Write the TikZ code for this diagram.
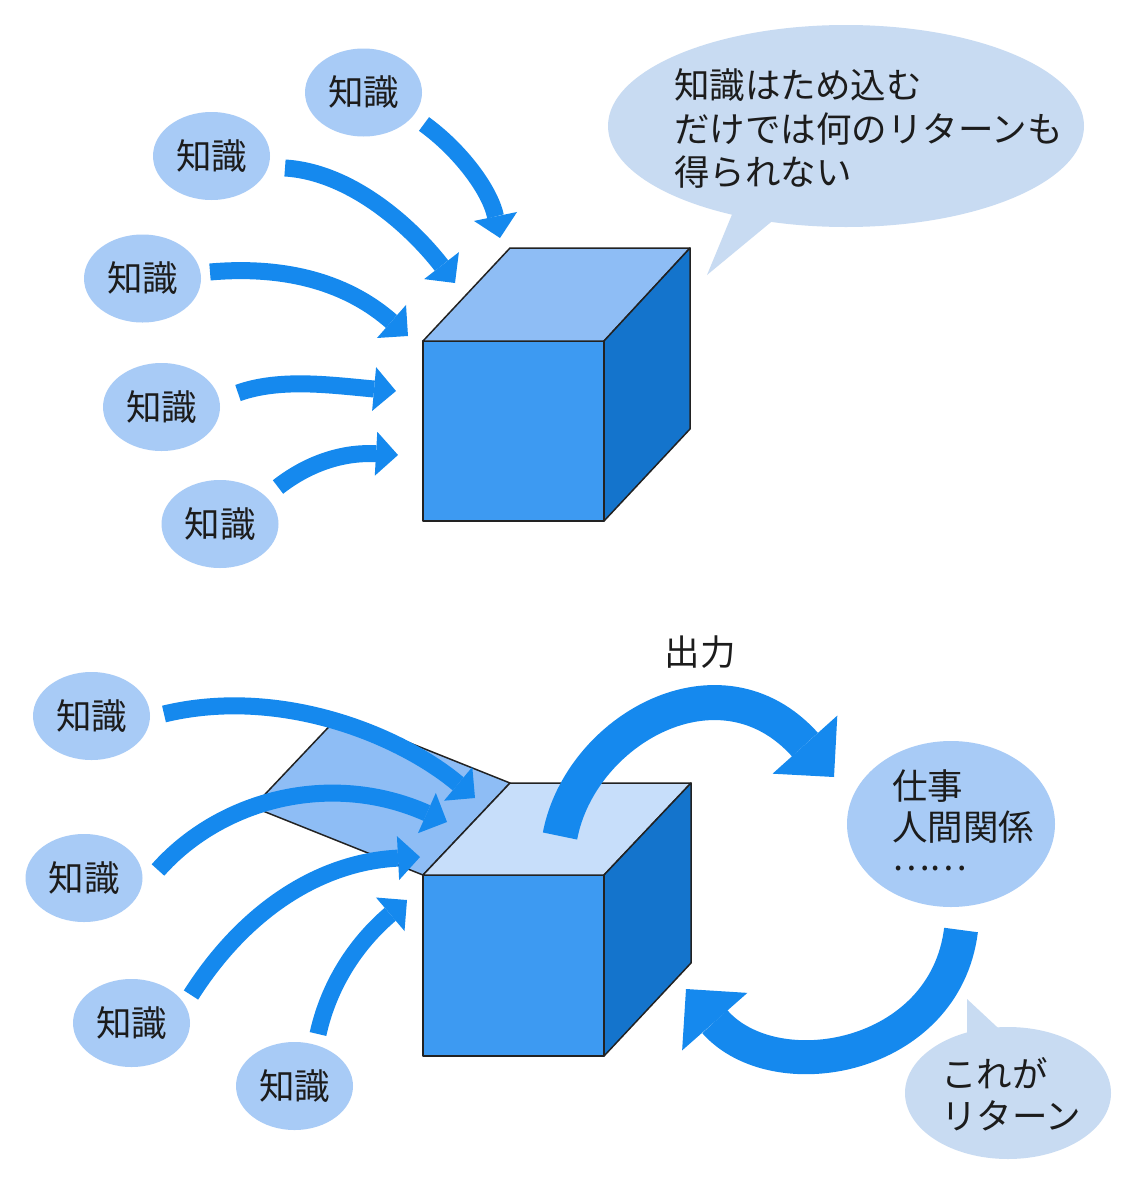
\documentclass[tikz,border=0pt]{standalone}
\usepackage{fontspec}
\newfontfamily\jp{Noto Sans CJK JP}
\usetikzlibrary{arrows.meta,shapes.geometric}
\definecolor{arrowblue}{RGB}{21,137,238}
\definecolor{kfill}{RGB}{168,203,246}
\definecolor{spfill}{RGB}{200,219,242}
\definecolor{cfront}{RGB}{61,154,242}
\definecolor{ctop}{RGB}{142,189,245}
\definecolor{cright}{RGB}{20,116,204}
\definecolor{copen}{RGB}{199,222,250}
\definecolor{edgecol}{RGB}{34,34,34}
\definecolor{ink}{RGB}{28,28,28}
\newcommand\jst{\rule[-0.12em]{0pt}{1em}}
\tikzset{
  kb/.style={ellipse, fill=kfill, minimum width=117pt, minimum height=88pt, inner sep=0pt,
             font=\jp\fontsize{35.5}{41}\selectfont, text=ink},
  spb/.style={ellipse, fill=spfill, inner sep=0pt},
  txt/.style={inner sep=0pt, align=left, text=ink},
  edge/.style={draw=edgecol, line width=1.5pt, line join=round},
  karrow/.style={draw=arrowblue, line width=17pt, -{Triangle[width=44pt,length=22pt,line width=0pt]}},
  bigarrow/.style={draw=arrowblue, line width=34pt, -{Triangle[width=87pt,length=43.5pt,line width=0pt]}}
}
\begin{document}
\begin{tikzpicture}[x=1pt,y=-1pt]
\useasboundingbox[fill=white] (0,0) rectangle (1138,1186);

% ---------- upper part ----------
\node[spb, minimum width=476pt, minimum height=202pt] (say) at (846,126) {};
\fill[spfill] (738,200) -- (782,213) -- (707,275) -- cycle;
\node[txt, anchor=north west, font=\jp\fontsize{35.5}{43.5}\selectfont] (saytext) at (674,67.5)
  {\jst 知識はため込む\\\jst だけでは何のリターンも\\\jst 得られない};

% upper cube
\draw[edge, fill=cfront] (423,341) rectangle (604,521);
\draw[edge, fill=ctop] (423,341) -- (510,248) -- (690,248) -- (604,341) -- cycle;
\draw[edge, fill=cright] (604,341) -- (690,248) -- (690,429) -- (604,521) -- cycle;

\node[kb] (k1) at (363.5,92.5) {知識};
\node[kb] (k2) at (211.5,156) {知識};
\node[kb] (k3) at (142.5,278.5) {知識};
\node[kb] (k4) at (161.5,407) {知識};
\node[kb] (k5) at (220,524) {知識};

\coordinate (a1s) at (424,124);  \coordinate (a1e) at (500,238);
\coordinate (a2s) at (285,168);  \coordinate (a2e) at (455,283);
\coordinate (a3s) at (210,272);  \coordinate (a3e) at (408,336);
\coordinate (a4s) at (238,393);  \coordinate (a4e) at (396,391);
\coordinate (a5s) at (278,487);  \coordinate (a5e) at (398,455);
\draw[karrow] (a1s) .. controls (460,150) and (490,190) .. (a1e);
\draw[karrow] (a2s) .. controls (350,172) and (410,225) .. (a2e);
\draw[karrow] (a3s) .. controls (290,265) and (350,285) .. (a3e);
\draw[karrow] (a4s) .. controls (280,378) and (330,385) .. (a4e);
\draw[karrow] (a5s) .. controls (310,462) and (345,452) .. (a5e);

% ---------- lower part ----------
% open lid
\draw[edge, fill=ctop] (510,783) -- (340,715) -- (253,807) -- (423,875) -- cycle;
% lower cube
\draw[edge, fill=cfront] (423,875) rectangle (604,1056);
\draw[edge, fill=copen] (423,875) -- (510,783) -- (691,783) -- (604,875) -- cycle;
\draw[edge, fill=cright] (604,875) -- (691,783) -- (691,963) -- (604,1056) -- cycle;

\node[kb] (c1) at (91.5,716) {知識};
\node[kb] (c2) at (84,878) {知識};
\node[kb] (c3) at (131.5,1023) {知識};
\node[kb] (c4) at (294.5,1086) {知識};

\coordinate (d1s) at (164,714);  \coordinate (d1e) at (475,798);
\coordinate (d2s) at (158,870);  \coordinate (d2e) at (447,822);
\coordinate (d3s) at (191,995);  \coordinate (d3e) at (420,857);
\coordinate (d4s) at (318,1034); \coordinate (d4e) at (407,900);
\draw[karrow] (d1s) .. controls (280,686) and (400,735) .. (d1e);
\draw[karrow] (d2s) .. controls (220,800) and (330,770) .. (d2e);
\draw[karrow] (d3s) .. controls (245,910) and (320,862) .. (d3e);
\draw[karrow] (d4s) .. controls (330,980) and (360,940) .. (d4e);

% output / return
\node[txt, font=\jp\fontsize{35.5}{41}\selectfont] (out) at (700,652) {出力};
\node[kb, minimum width=208pt, minimum height=166pt] (work) at (951,824) {};
\node[txt, anchor=north west, font=\jp\fontsize{35.5}{41}\selectfont] (worktext) at (892,768)
  {\jst 仕事\\\jst 人間関係\\\jst \raisebox{0.3em}{……}};

\coordinate (o1s) at (560,836); \coordinate (o1e) at (834,777);
\coordinate (o2s) at (961,930); \coordinate (o2e) at (686,989);
\draw[bigarrow, line width=35pt] (o1s) .. controls (580,730) and (720,650) .. (o1e);
\draw[bigarrow] (o2s) .. controls (945,1060) and (775,1090) .. (o2e);

\node[spb, minimum width=206pt, minimum height=132pt] (ret) at (1008,1093) {};
\fill[spfill] (967,999) -- (967,1045) -- (1011,1040) -- cycle;
\node[txt, anchor=north west, font=\jp\fontsize{35.5}{42}\selectfont] (rettext) at (941,1056)
  {\jst これが\\\jst リターン};
\end{tikzpicture}
\end{document}
